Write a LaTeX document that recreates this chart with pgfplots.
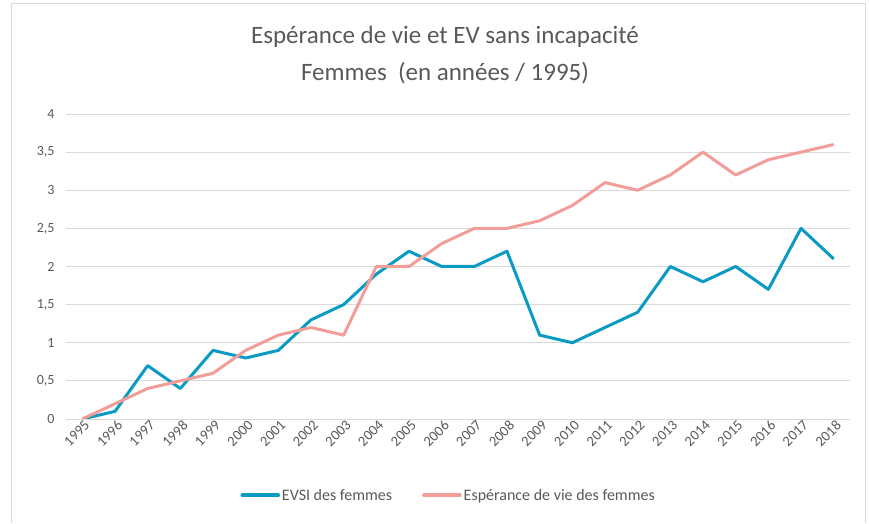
\documentclass[border=0pt]{standalone}
\usepackage{pgfplots}
\pgfplotsset{compat=1.18}
\usepackage{fontspec}
\setmainfont{Carlito}
\definecolor{teal1}{RGB}{10,154,196}
\definecolor{pink1}{RGB}{242,157,152}
\definecolor{txt}{RGB}{89,89,89}
\definecolor{grd}{RGB}{217,217,217}
\begin{document}
\begin{tikzpicture}[x=1pt,y=1pt]
\path (0,0) rectangle (869,521);
\draw[grd, line width=0.8pt] (11.5,-2) -- (11.5,518) -- (865.5,518) -- (865.5,-2);
\node[txt, font=\fontsize{25}{30}\selectfont] at (445,484) {Espérance de vie et EV sans incapacité};
\node[txt, font=\fontsize{25}{30}\selectfont] at (445,448) {Femmes~ (en années / 1995)};
\begin{axis}[
  at={(66pt,102pt)}, anchor=south west,
  scale only axis, width=784pt, height=305pt,
  xmin=1994.5, xmax=2018.5, ymin=0, ymax=4,
  xtick={1995,...,2018}, ytick={0,0.5,...,4},
  axis line style={draw=none},
  major tick style={draw=none},
  ymajorgrids, grid style={grd, line width=0.9pt},
  /pgf/number format/assume math mode=true,
  /pgf/number format/use comma,
  /pgf/number format/1000 sep={},
  yticklabel style={txt, font=\fontsize{14}{16}\selectfont, xshift=-8pt},
  xticklabel style={txt, font=\fontsize{14.5}{16}\selectfont, rotate=45, anchor=north east, xshift=4pt, yshift=2pt},
  xticklabel={\pgfmathprintnumber[1000 sep={}]{\tick}},
  legend style={at={(0.488,-0.25)}, anchor=center, draw=none, font=\fontsize{16}{18}\selectfont, text=txt,
    legend columns=2, /tikz/every even column/.append style={column sep=28pt},
    /tikz/every odd column/.append style={inner sep=1pt}},
  legend image code/.code={\draw[#1, line width=3.5pt, line cap=round] (0pt,0pt) -- (36pt,0pt);},
]
\addplot[teal1, line width=3pt, line join=round] coordinates {
(1995,0) (1996,0.1) (1997,0.7) (1998,0.4) (1999,0.9) (2000,0.8) (2001,0.9) (2002,1.3)
(2003,1.5) (2004,1.9) (2005,2.2) (2006,2.0) (2007,2.0) (2008,2.2) (2009,1.1) (2010,1.0)
(2011,1.2) (2012,1.4) (2013,2.0) (2014,1.8) (2015,2.0) (2016,1.7) (2017,2.5) (2018,2.1)};
\addlegendentry{EVSI des femmes}
\addplot[pink1, line width=3pt, line join=round] coordinates {
(1995,0) (1996,0.2) (1997,0.4) (1998,0.5) (1999,0.6) (2000,0.9) (2001,1.1) (2002,1.2)
(2003,1.1) (2004,2.0) (2005,2.0) (2006,2.3) (2007,2.5) (2008,2.5) (2009,2.6) (2010,2.8)
(2011,3.1) (2012,3.0) (2013,3.2) (2014,3.5) (2015,3.2) (2016,3.4) (2017,3.5) (2018,3.6)};
\addlegendentry{Espérance de vie des femmes}
\end{axis}
\end{tikzpicture}
\end{document}
